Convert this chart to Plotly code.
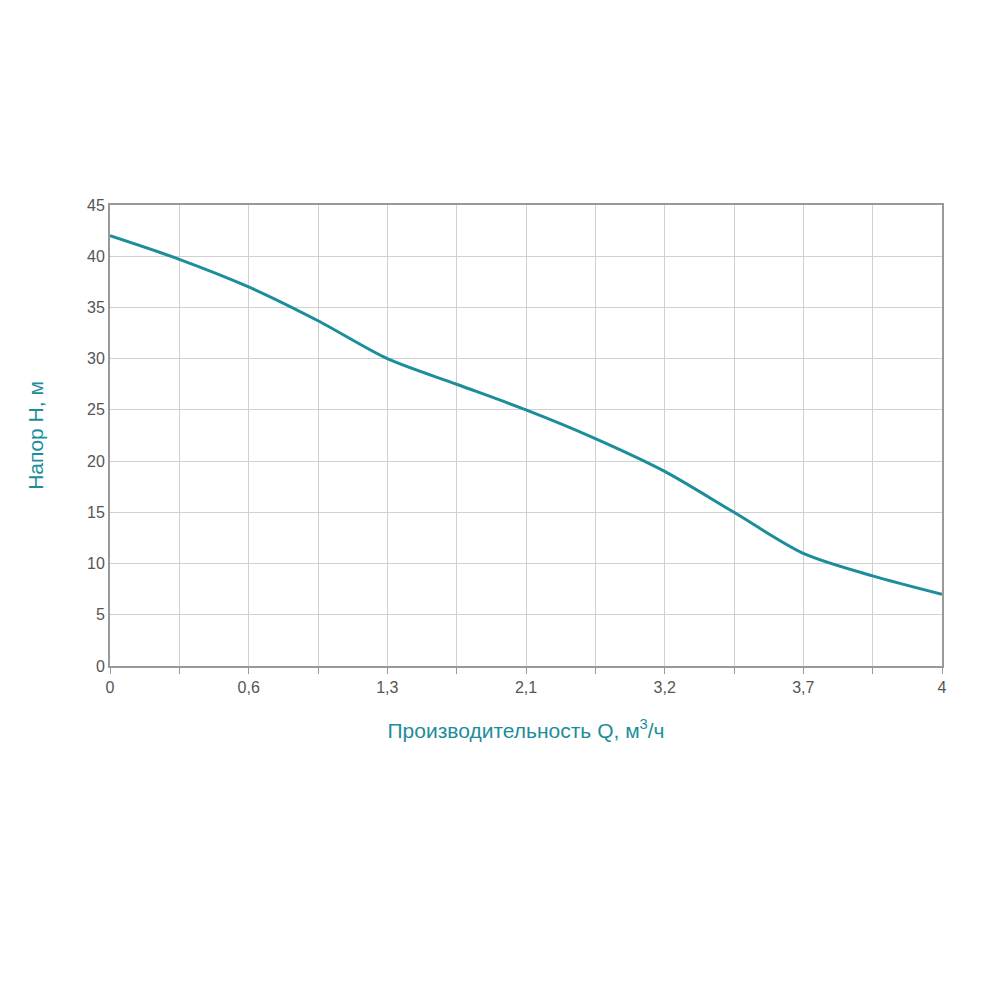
import plotly.graph_objects as go

x_idx = list(range(13))
head = [42, 39.7, 37, 33.7, 30, 27.5, 25, 22.2, 19, 15, 11, 8.8, 7]
tick_pos = [0, 2, 4, 6, 8, 10, 12]
tick_labels = ["0", "0,6", "1,3", "2,1", "3,2", "3,7", "4"]

teal = "#1c8d9b"
fig = go.Figure(go.Scatter(x=x_idx, y=head, mode="lines", line=dict(color=teal, width=3, shape="spline", smoothing=0.8)))
fig.update_layout(
    width=1000, height=1000, plot_bgcolor="white", paper_bgcolor="white",
    margin=dict(l=102, r=66, t=197, b=342), showlegend=False,
    font=dict(family="Liberation Sans, Arial", size=16, color="#555"),
)
fig.update_xaxes(range=[0, 12], tickvals=tick_pos, ticktext=tick_labels, showgrid=True, gridcolor="#d0d0d0",
                 minor=dict(dtick=1, tick0=0, showgrid=True, gridcolor="#d0d0d0", ticks="outside", ticklen=6, tickcolor="#999"),
                 ticks="outside", ticklen=6, tickcolor="#999",
                 showline=True, linecolor="#999", linewidth=2, mirror=True, zeroline=False,
                 title=dict(text="Производительность Q, м<sup>3</sup>/ч", font=dict(size=21, color=teal), standoff=28))
fig.update_yaxes(range=[0, 45], dtick=5, gridcolor="#d0d0d0", showline=True, linecolor="#999", linewidth=2, mirror=True,
                 zeroline=False, ticks="",
                 title=dict(text="Напор Н, м", font=dict(size=21, color=teal), standoff=38))
fig.write_html("out.html")
